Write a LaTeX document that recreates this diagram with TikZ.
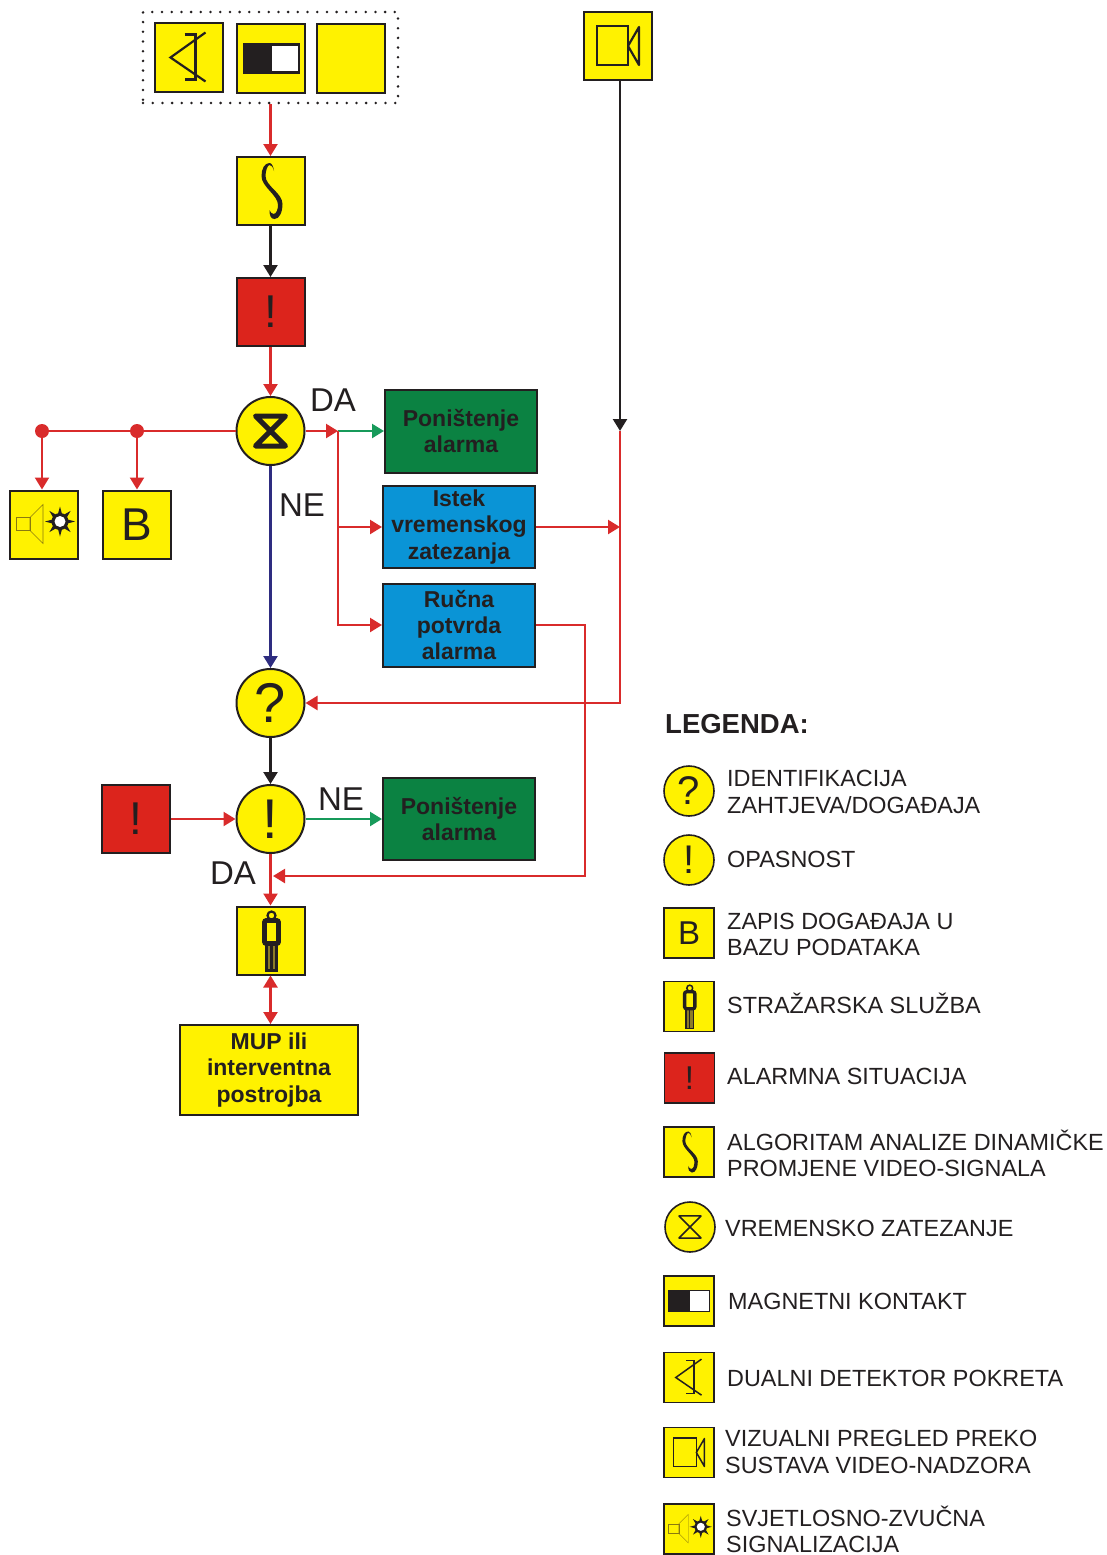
\documentclass[tikz,border=0pt]{standalone}
\usepackage{fontspec}
\setmainfont{Liberation Sans}
\usetikzlibrary{arrows.meta}

\definecolor{boxyellow}{HTML}{FFF200}
\definecolor{boxred}{HTML}{DC241C}
\definecolor{boxgreen}{HTML}{0B8242}
\definecolor{boxblue}{HTML}{0A94D6}
\definecolor{linered}{HTML}{D92B2B}
\definecolor{linegreen}{HTML}{179A5A}
\definecolor{linenavy}{HTML}{2E2C80}
\definecolor{inkdark}{HTML}{231F20}
\definecolor{speakerline}{HTML}{8A7A10}
\definecolor{legfill}{HTML}{8C7C28}

\newcommand{\fsize}[1]{\fontsize{#1}{#1}\selectfont}

\tikzset{
    symbig/.style={line width=2.2pt},
    symsmall/.style={scale=0.735, line width=1.5pt},
    detectorsym/.pic={
        \draw[inkdark] (17,-25) -- (-18,0) -- (17,24);
        \draw[inkdark] (-4,-23) -- (7,-23) -- (7,22) -- (-4,22);
    },
    contactsym/.pic={
        \draw[inkdark, fill=white] (-27,-14) rectangle (28,14);
        \fill[inkdark] (-27,-14) rectangle (1,14);
    },
    camerasym/.pic={
        \draw[inkdark] (-21,-20) rectangle (10,19);
        \draw[inkdark, line join=round] (10,0) -- (21,-19) -- (21,19) -- cycle;
    },
    curvesym/.pic={
        \fill[inkdark] (3.5,-20) .. controls (3,-25) and (1,-28) .. (-1,-28)
            .. controls (-6,-28) and (-9,-22) .. (-9,-15)
            .. controls (-9,-4) and (7.5,4) .. (7.5,14)
            .. controls (7.5,18) and (6,23) .. (3,23)
            .. controls (1,23) and (0,21) .. (-1,19)
            .. controls (-1,24) and (0,28) .. (4,28)
            .. controls (9,28) and (12,21) .. (12,13)
            .. controls (12,2) and (-5,-5) .. (-5,-15)
            .. controls (-5,-20) and (-3,-26) .. (-1,-26)
            .. controls (1,-26) and (2.5,-24) .. (3.5,-20) -- cycle;
    },
    glasssym/.pic={
        \draw[inkdark, line join=round] (-15,-15) -- (15,-15) -- (-15,15) -- (15,15) -- cycle;
    },
    personsym/.pic={
        \draw[inkdark] (1,-25) circle[radius=4];
        \draw[inkdark, fill=legfill] (-4,3) rectangle (6,30);
        \draw[inkdark] (1,3) -- (1,30);
        \draw[inkdark, fill=boxyellow, rounded corners=2pt, line width=1.5\pgflinewidth] (-6,-20) rectangle (8,3);
    },
    speakersym/.pic={
        \draw[speakerline, line width=0.5\pgflinewidth] (-28,-7) rectangle (-14,6);
        \draw[speakerline, line width=0.5\pgflinewidth] (-14,-7) -- (-1,-20) -- (-1,19) -- (-14,6) -- cycle;
        \foreach \a in {0,45,...,315} {
            \fill[inkdark] (16,-3) ++(\a:15) -- ++(\a+165:8) -- ++(\a+270:4.2) -- cycle;
        }
        \fill[inkdark] (16,-3) circle[radius=8.5];
        \fill[white] (16,-3) circle[radius=5.5];
    },
    bigbox/.style={draw=inkdark, line width=2pt, fill=boxyellow, minimum size=68pt, inner sep=0pt, text=inkdark, font=\fsize{46}},
    smallbox/.style={draw=inkdark, line width=1.6pt, fill=boxyellow, minimum size=50pt, inner sep=0pt, text=inkdark, font=\fsize{33}},
    bigdisc/.style={circle, draw=inkdark, line width=2pt, fill=boxyellow, minimum size=68pt, inner sep=0pt, text=inkdark, font=\fsize{56}},
    smalldisc/.style={circle, draw=inkdark, line width=1.6pt, fill=boxyellow, minimum size=50pt, inner sep=0pt, text=inkdark, font=\fsize{40}},
    lineskip/.style={execute at begin node={\setlength{\baselineskip}{#1}}},
    textbox/.style={draw=inkdark, line width=2pt, inner sep=0pt, text=inkdark, align=center, font=\fsize{23}\bfseries, lineskip=26.4pt},
    flag/.style={text=inkdark, font=\fsize{33}, inner sep=0pt},
    legtext/.style={anchor=west, text=inkdark, align=left, inner sep=0pt, font=\fsize{23.4}, lineskip=26.2pt},
    joint/.style={circle, fill=linered, minimum size=14pt, inner sep=0pt},
    arrow/.style={->, >={Triangle[length=12pt,width=14pt]}, line width=2.3pt},
    redarrow/.style={arrow, draw=linered},
    blackarrow/.style={arrow, draw=inkdark},
    greenarrow/.style={arrow, draw=linegreen},
    navyarrow/.style={arrow, draw=linenavy}
}

\begin{document}
\begin{tikzpicture}[x=1pt, y=-1pt]
\useasboundingbox (0,0) rectangle (1107,1555);

% sensors and flow
\node[bigbox] (detector) at (188.5,57.5) {};
\node[bigbox] (contact) at (271,58.5) {};
\node[bigbox] (blank) at (351,58.5) {};
\node[draw=inkdark, line width=2.8pt, dash pattern=on 0pt off 9.7pt, line cap=round, inner sep=0pt,
    minimum width=255pt, minimum height=91pt] (sensors) at (270.5,57.5) {};
\node[bigbox] (camera) at (618,46) {};
\node[bigbox] (curve) at (270.5,191) {};
\node[bigbox, fill=boxred] (alarm) at (270.5,312) {!};
\node[bigdisc] (delay) at (270.5,431) {};
\node[joint] (jointb) at (137,431) {};
\node[joint] (jointsig) at (42,431) {};
\node[bigbox] (signal) at (44,524.5) {};
\node[bigbox] (base) at (137,524.5) {B};
\node[textbox, fill=boxgreen, minimum width=152pt, minimum height=83pt] (cancela) at (461,431) {Poništenje\\alarma};
\node[textbox, fill=boxblue, minimum width=152pt, minimum height=82pt] (expire) at (459,527) {Istek\\vremenskog\\zatezanja};
\node[textbox, fill=boxblue, minimum width=152pt, minimum height=83pt] (confirm) at (459,625) {Ručna\\potvrda\\alarma};
\node[bigdisc] (query) at (270.5,703) {?};
\node[bigdisc] (danger) at (270.5,819) {!};
\node[bigbox, fill=boxred] (alarmb) at (136,819) {!};
\node[textbox, fill=boxgreen, minimum width=152pt, minimum height=82pt] (cancelb) at (459,819) {Poništenje\\alarma};
\node[bigbox] (guard) at (270.5,940.5) {};
\node[textbox, fill=boxyellow, minimum width=178pt, minimum height=90pt] (police) at (269,1070) {MUP ili\\interventna\\postrojba};

\pic[symbig] at (detector) {detectorsym};
\pic[symbig] at (contact) {contactsym};
\pic[symbig] at (camera) {camerasym};
\pic[symbig] at (curve) {curvesym};
\pic[symbig, line width=5pt] at (delay) {glasssym};
\pic[symbig] at (signal) {speakersym};
\pic[symbig] at (guard) {personsym};

\node[flag] (lblda) at (333,400) {DA};
\node[flag] (lblne) at (302,505) {NE};
\node[flag] (lblneb) at (341,799) {NE};
\node[flag] (lbldab) at (233,873) {DA};

\coordinate (daturn) at (338,431);
\coordinate (camend) at (620,431);
\coordinate (bypass) at (585,876);
\coordinate (bypassend) at (273,876);

\draw[redarrow] (sensors) -- (curve);
\draw[blackarrow] (curve) -- (alarm);
\draw[redarrow] (alarm) -- (delay);
\draw[redarrow] (delay) -- (daturn);
\draw[greenarrow] (daturn) -- (cancela);
\draw[redarrow] (daturn) |- (expire);
\draw[redarrow] (daturn) |- (confirm);
\draw[line width=2.3pt, draw=linered] (delay) -- (jointsig);
\draw[redarrow] (jointsig) -- (jointsig |- signal.north);
\draw[redarrow] (jointb) -- (base);
\draw[navyarrow] (delay) -- (query);
\draw[blackarrow] (camend |- camera.south) -- (camend);
\draw[redarrow] (camend) |- (query);
\draw[redarrow] (expire) -- (camend |- expire);
\draw[blackarrow] (query) -- (danger);
\draw[redarrow] (alarmb) -- (danger);
\draw[greenarrow] (danger) -- (cancelb);
\draw[redarrow] (danger) -- (guard);
\draw[redarrow] (confirm) -| (bypass) -- (bypassend);
\draw[redarrow, <->] (guard) -- (guard |- police.north);

% legend
\node[anchor=west, inner sep=0pt, text=inkdark, font=\fsize{27.5}\bfseries] (legtitle) at (665,724) {LEGENDA:};

\node[smalldisc] (legquery) at (689,791) {?};
\node[smalldisc] (legdanger) at (689,860) {!};
\node[smallbox] (legbase) at (689,933) {B};
\node[smallbox] (legguard) at (689,1006.5) {};
\node[smallbox, fill=boxred] (legalarm) at (689.5,1078) {!};
\node[smallbox] (legcurve) at (689,1152) {};
\node[smalldisc] (legdelay) at (690,1227) {};
\node[smallbox] (legcontact) at (689,1301) {};
\node[smallbox] (legdetector) at (689,1377.5) {};
\node[smallbox] (legcamera) at (689,1452.5) {};
\node[smallbox] (legsignal) at (689,1529) {};

\pic[symsmall] at (legguard) {personsym};
\pic[symsmall] at (legcurve) {curvesym};
\pic[symsmall] at (legdelay) {glasssym};
\pic[symsmall] at (legcontact) {contactsym};
\pic[symsmall] at (legdetector) {detectorsym};
\pic[symsmall] at (legcamera) {camerasym};
\pic[symsmall] at (legsignal) {speakersym};

\node[legtext] (txtquery) at (727,792) {IDENTIFIKACIJA\\ZAHTJEVA/DOGAĐAJA};
\node[legtext] (txtdanger) at (727,859) {OPASNOST};
\node[legtext] (txtbase) at (727,934.5) {ZAPIS DOGAĐAJA U\\BAZU PODATAKA};
\node[legtext] (txtguard) at (727,1003) {STRAŽARSKA SLUŽBA};
\node[legtext] (txtalarm) at (727,1076) {ALARMNA SITUACIJA};
\node[legtext] (txtcurve) at (727,1153) {ALGORITAM ANALIZE DINAMIČKE\\PROMJENE VIDEO-SIGNALA};
\node[legtext] (txtdelay) at (725,1228) {VREMENSKO ZATEZANJE};
\node[legtext] (txtcontact) at (728,1301) {MAGNETNI KONTAKT};
\node[legtext] (txtdetector) at (727,1378) {DUALNI DETEKTOR POKRETA};
\node[legtext] (txtcamera) at (725,1452) {VIZUALNI PREGLED PREKO\\SUSTAVA VIDEO-NADZORA};
\node[legtext] (txtsignal) at (726,1529) {SVJETLOSNO-ZVUČNA\\SIGNALIZACIJA};

\end{tikzpicture}
\end{document}
